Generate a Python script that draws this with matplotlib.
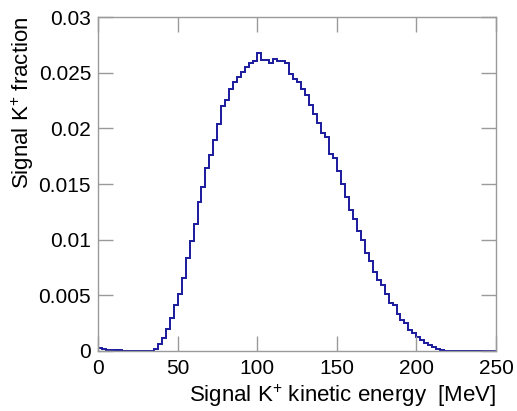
import numpy as np
import matplotlib
matplotlib.use("Agg")
import matplotlib.pyplot as plt
from matplotlib.ticker import FixedLocator, FixedFormatter

plt.rcParams['font.family'] = ['Liberation Sans', 'DejaVu Sans']
plt.rcParams['mathtext.fontset'] = 'custom'
plt.rcParams['mathtext.rm'] = 'Liberation Sans'
plt.rcParams['mathtext.it'] = 'Liberation Sans:italic'
plt.rcParams['mathtext.bf'] = 'Liberation Sans:bold'

bin_edges = np.arange(0, 250.0 + 2.5, 2.5)
fraction = [
    0.00030, 0.00018, 0.00009, 0.00006, 0.00006, 0.00005, 0.00003, 0.00003, 0.00003, 0.00003,
    0.00003, 0.00003, 0.00003, 0.00004, 0.00021, 0.00060, 0.00116, 0.00197, 0.00299, 0.00415,
    0.00513, 0.00657, 0.00833, 0.00991, 0.01143, 0.01340, 0.01475, 0.01648, 0.01764, 0.01898,
    0.02039, 0.02203, 0.02254, 0.02355, 0.02418, 0.02460, 0.02510, 0.02552, 0.02591, 0.02603,
    0.02677, 0.02612, 0.02618, 0.02588, 0.02624, 0.02609, 0.02609, 0.02585, 0.02487, 0.02445,
    0.02415, 0.02350, 0.02300, 0.02210, 0.02130, 0.02050, 0.01960, 0.01920, 0.01770, 0.01730,
    0.01620, 0.01500, 0.01380, 0.01270, 0.01190, 0.01080, 0.01000, 0.00880, 0.00810, 0.00710,
    0.00640, 0.00590, 0.00510, 0.00430, 0.00410, 0.00330, 0.00280, 0.00250, 0.00190, 0.00160,
    0.00130, 0.00100, 0.00075, 0.00054, 0.00033, 0.00020, 0.00006, 0.0, 0.0, 0.0,
    0.0, 0.0, 0.0, 0.0, 0.0, 0.0, 0.0, 0.0, 0.0, 0.0,
]
x_ticks = [0, 50, 100, 150, 200, 250]
x_tick_labels = ["0", "50", "100", "150", "200", "250"]
y_ticks = [0, 0.005, 0.01, 0.015, 0.02, 0.025, 0.03]
y_tick_labels = ["0", "0.005", "0.01", "0.015", "0.02", "0.025", "0.03"]

W, H = 517, 411
fig = plt.figure(figsize=(W / 100, H / 100), dpi=100)
left, right, top, bottom = 98, 496, 17, 351
ax = fig.add_axes([left / W, 1 - bottom / H, (right - left) / W, (bottom - top) / H])

ax.stairs(fraction, bin_edges, color='#1a1a9c', linewidth=1.4)

ax.set_xlim(0, 250)
ax.set_ylim(0, 0.03)
ax.xaxis.set_major_locator(FixedLocator(x_ticks))
ax.xaxis.set_major_formatter(FixedFormatter(x_tick_labels))
ax.yaxis.set_major_locator(FixedLocator(y_ticks))
ax.yaxis.set_major_formatter(FixedFormatter(y_tick_labels))

frame_col = '#9a9a9a'
for s in ax.spines.values():
    s.set_color(frame_col)
    s.set_linewidth(1.0)
ax.tick_params(axis='both', which='major', direction='in', length=11, width=1.0,
               color=frame_col, top=True, right=True, labelsize=15, labelcolor='black')
ax.tick_params(axis='x', pad=6)
ax.tick_params(axis='y', pad=5)

ax.set_xlabel(r"Signal K$^{+}$ kinetic energy  [MeV]", fontsize=16, loc='right', labelpad=3)
ax.set_ylabel(r"Signal K$^{+}$ fraction", fontsize=16, loc='top', labelpad=2)

fig.savefig("out.png", dpi=100)
